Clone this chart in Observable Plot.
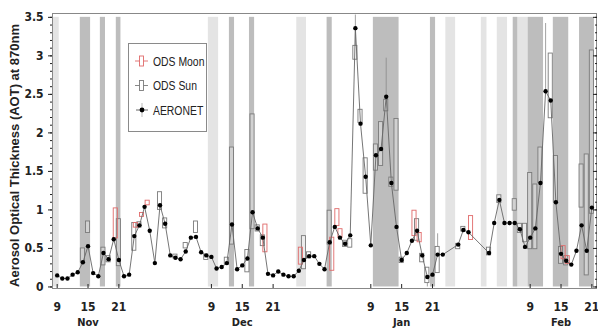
<!DOCTYPE html>
<html><head><meta charset="utf-8">
<script src="https://cdn.jsdelivr.net/npm/d3@7"></script>
<script src="https://cdn.jsdelivr.net/npm/@observablehq/plot@0.6"></script>
<style>
html,body{margin:0;padding:0;background:#fff;}
#wrap{position:relative;width:598px;height:329px;overflow:hidden;}
#wrap svg{display:block;}
#legend{position:absolute;left:0;top:0;pointer-events:none;}
</style></head><body><div id="wrap"></div>
<script>
// ---- data (day = days after 9 Nov) ----
const aerDay = [0,1,2,3,4,5,6,7,8,9,10,11,12,13,14,15,16,17,18,19,20,21,22,23,24,25,26,27,28,29,30,31,32,33,34,35,36,37,38,39,40,41,42,43,44,45,46,47,48,49,50,51,52,53,54,55,56,57,58,59,60,61,62,63,64,65,66,67,68,69,70,71,72,73,74,75,78,79,80,84,85,86,87,88,89,90,91,92,93,94,95,96,97,98,99,100,101,102,103,104];
const aerAOT = [.15,.11,.11,.16,.19,.32,.53,.18,.14,.44,.36,.62,.35,.14,.16,.66,.80,1.04,.73,.31,1.06,.82,.41,.38,.36,.46,.64,.65,.45,.41,.39,.24,.26,.31,.81,.23,.28,.37,.97,.76,.64,.17,.15,.20,.16,.14,.14,.21,.35,.40,.40,.30,.23,.58,.78,.64,.56,.67,3.36,2.12,1.43,.54,1.71,1.79,2.47,1.35,.78,.35,.44,.60,.73,.41,.13,.16,.42,.42,.55,.74,.71,.44,.83,1.13,.83,.83,.83,.75,.52,.64,.76,1.35,2.54,2.42,1.10,.43,.34,.29,.47,.80,.47,1.03];

const sunDay = [5,6,9,10,12,15,16,20,21,23,25,27,29,33,34,37,38,39,40,48,49,53,56,57,58,59,60,62,63,64,65,66,67,70,71,72,74,78,79,84,86,89,90,91,92,93,94,96,97,98,99,102,103,104];
const sunLo  = [.32,.70,.28,.32,.27,.47,.77,1.00,.76,.37,.50,.70,.35,.29,.55,.19,.75,.72,.53,.23,.37,.55,.52,.51,2.95,2.13,1.21,1.51,1.57,2.28,1.30,1.25,.31,.60,.32,.05,.18,.49,.72,.41,1.09,.99,.70,.58,.49,.49,1.35,2.19,1.10,.30,.28,1.03,.15,.95];
const sunHi  = [.50,.85,.51,.40,.88,.83,.84,1.23,.89,.42,.57,.85,.42,.38,1.81,.48,2.24,.80,.67,.66,.45,.99,.60,.62,3.13,2.30,1.67,1.85,2.14,2.43,1.42,2.18,.38,.88,.43,.25,.52,.56,.78,.51,1.19,1.14,.82,.82,1.48,1.33,1.81,3.03,1.70,.52,.40,1.59,1.72,3.07];

const moonDay = [11.4,15.3,16.5,17.6,40.5,47.4,53.5,54.5,55.1,69.5,70.5,80.5,98.5,99.3];
const moonLo  = [.63,.77,.91,1.06,.45,.29,.21,.79,.64,.66,.58,.61,.36,.30];
const moonHi  = [1.02,.83,.96,1.12,.81,.51,.64,1.01,.75,.99,.70,.92,.53,.40];

const whDay = [58,64,95,72,74];
const whLo  = [3.13,2.43,2.54,0.0,.52];
const whHi  = [3.53,2.97,3.42,.05,.69];

const bandStart = [-0.9,4.5,8.4,11.5,29.4,33.5,37.4,46.6,52.5,61.5,72.6,75.6,82.5,85.6,88.7,89.6,91.6,96.5,101.6];
const bandEnd   = [0.4,6.5,9.4,12.4,31.4,34.5,38.4,48.5,53.5,66.5,73.6,77.5,83.6,87.6,89.6,91.6,94.6,99.5,104.5];
const bandShade = ["light","dark","dark","dark","light","dark","dark","light","dark","dark","dark","light","light","light","dark","light","dark","dark","dark"];

const xTicks = ["2012-11-09","2012-11-15","2012-11-21","2012-12-09","2012-12-15","2012-12-21","2013-01-09","2013-01-15","2013-01-21","2013-02-09","2013-02-15","2013-02-21"];
const monthTicks = ["2012-11-15","2012-12-15","2013-01-15","2013-02-15"];
const yTicks = [0,0.5,1,1.5,2,2.5,3,3.5];
const yLabel = "Aerosol Optical Thickness (AOT) at 870nm";
const legendItems = ["ODS Moon","ODS Sun","AERONET"];

// ---- build ----
const base = Date.UTC(2012, 10, 9);
const day = d => new Date(base + d * 864e5);
const hw = 0.4;

const aer = aerDay.map((d, i) => ({d, v: aerAOT[i]}));
const sun = sunDay.map((d, i) => ({d, lo: sunLo[i], hi: sunHi[i]}));
const moon = moonDay.map((d, i) => ({d, lo: moonLo[i], hi: moonHi[i]}));
const wh = whDay.map((d, i) => ({d, lo: whLo[i], hi: whHi[i]}));
const bands = bandStart.map((s, i) => ({s, e: bandEnd[i], shade: bandShade[i]}));

const narrow = '"Liberation Sans Narrow","Arial Narrow","DejaVu Sans Condensed","Liberation Sans",Arial,sans-serif';
const minor = d3.range(0, 3.501, 0.1).map(v => +v.toFixed(1));

const chart = Plot.plot({
  width: 598, height: 329,
  marginLeft: 52, marginRight: 2, marginTop: 13, marginBottom: 41,
  style: {fontFamily: narrow, fontSize: "12px", fontWeight: "bold", color: "#222", background: "#fff", overflow: "visible"},
  x: {type: "utc", domain: [day(-0.91), day(104.9)]},
  y: {domain: [-0.02, 3.55]},
  marks: [
    Plot.rect(bands.filter(b => b.shade === "light"), {x1: b => day(b.s), x2: b => day(b.e), y1: 0, y2: 3.5, fill: "#e4e4e4"}),
    Plot.rect(bands.filter(b => b.shade === "dark"), {x1: b => day(b.s), x2: b => day(b.e), y1: 0, y2: 3.5, fill: "#bdbdbd"}),
    Plot.ruleX(wh, {x: d => day(d.d), y1: "lo", y2: "hi", stroke: "#8a8a8a", strokeWidth: 0.8}),
    Plot.rect(sun, {x1: d => day(d.d - hw), x2: d => day(d.d + hw), y1: "lo", y2: "hi", fill: "#fff", fillOpacity: 0.3, stroke: "#7a7a7a", strokeWidth: 0.9}),
    Plot.rect(moon, {x1: d => day(d.d - hw), x2: d => day(d.d + hw), y1: "lo", y2: "hi", fill: "none", stroke: "#e06a6a", strokeWidth: 0.9}),
    Plot.line(aer, {x: d => day(d.d), y: "v", stroke: "#666", strokeWidth: 0.9}),
    Plot.dot(aer, {x: d => day(d.d), y: "v", r: 2.2, fill: "#000"}),
    Plot.frame({stroke: "#888"}),
    Plot.axisY(yTicks, {anchor: "left", tickSize: 4, tickPadding: 5, tickFormat: d => String(d), label: null, fontSize: 12}),
    Plot.axisY(minor, {anchor: "left", tickSize: 2, tickFormat: () => "", label: null}),
    Plot.axisY(yTicks, {anchor: "right", tickSize: -4, tickFormat: () => "", label: null}),
    Plot.axisY(minor, {anchor: "right", tickSize: -2, tickFormat: () => "", label: null}),
    Plot.axisX(xTicks.map(s => new Date(s)), {tickSize: -4, tickPadding: 18, tickFormat: "%-d", label: null, fontSize: 12}),
    Plot.axisX(monthTicks.map(s => new Date(s)), {tickSize: 0, tickPadding: 30, tickFormat: "%b", label: null, fontSize: 11}),
    Plot.text([yLabel], {frameAnchor: "left", textAnchor: "middle", rotate: -90, dx: -38, dy: 4.5, fontSize: 13, fontWeight: "bold", fontFamily: '"Liberation Sans",Arial,sans-serif', fill: "#222"})
  ]
});
document.getElementById("wrap").appendChild(chart);

// legend overlay
const leg = d3.select("#wrap").append("svg").attr("id", "legend").attr("width", 598).attr("height", 329);
leg.append("rect").attr("x", 128.5).attr("y", 43.5).attr("width", 78).attr("height", 88)
  .attr("fill", "#fff").attr("stroke", "#8a8a8a").attr("stroke-width", 1);
const ys = [61, 85.5, 110];
const cols = ["#e06a6a", "#7a7a7a", "#000"];
legendItems.forEach((t, i) => {
  const y = ys[i];
  const g = leg.append("g");
  if (i < 2) {
    g.append("line").attr("x1", 135).attr("x2", 148).attr("y1", y).attr("y2", y).attr("stroke", cols[i]).attr("stroke-width", 0.9);
    g.append("rect").attr("x", 139.5).attr("y", y - 5).attr("width", 4).attr("height", 10).attr("fill", "#fff").attr("stroke", cols[i]).attr("stroke-width", 0.9);
  } else {
    g.append("line").attr("x1", 142).attr("x2", 142).attr("y1", y - 7).attr("y2", y + 7).attr("stroke", "#aaa").attr("stroke-width", 0.8);
    g.append("line").attr("x1", 136).attr("x2", 148).attr("y1", y).attr("y2", y).attr("stroke", "#555").attr("stroke-width", 0.9);
    g.append("circle").attr("cx", 142).attr("cy", y).attr("r", 2.4).attr("fill", "#000");
  }
  g.append("text").attr("transform", `translate(153,${y}) scale(0.8,1)`).attr("dy", "0.35em")
    .attr("font-family", '"Liberation Sans",Arial,sans-serif')
    .attr("font-size", 13).attr("fill", "#222").text(t);
});
</script>
</body></html>
